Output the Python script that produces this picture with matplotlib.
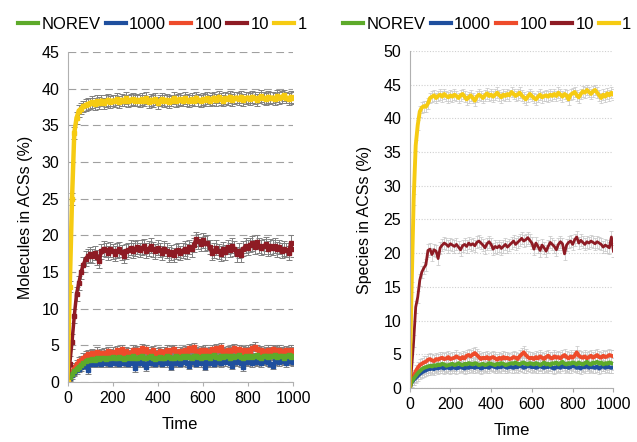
import numpy as np
import matplotlib
matplotlib.use('Agg')
import matplotlib.pyplot as plt
from matplotlib.lines import Line2D

plt.rcParams['font.family'] = ['Liberation Sans', 'DejaVu Sans']

# time axis (every 10 steps)
time = np.arange(0, 1001, 10)

labels = ['NOREV', '1000', '100', '10', '1']
colors = ['#5DAA2A', '#1F4F9E', '#EE4B2B', '#8E1B24', '#F6CB12']

# --- left panel: molecules in ACSs (%) ---
mol_norev = [0, 0.6, 1.1, 1.5, 1.8, 2.1, 2.3, 2.6, 2.8, 3.0, 3.0,
             3.1, 3.0, 3.2, 3.1, 3.3, 3.2, 3.1, 3.3, 3.2, 3.4,
             3.3, 3.2, 3.4, 3.3, 3.1, 3.3, 3.4, 3.2, 3.5, 3.3,
             3.2, 3.4, 3.6, 3.3, 3.2, 3.4, 3.5, 3.3, 3.1, 3.3,
             3.4, 3.2, 3.3, 3.5, 3.4, 3.2, 3.3, 3.5, 3.4, 3.3,
             3.5, 3.4, 3.6, 3.4, 3.3, 3.5, 3.6, 3.4, 3.3, 3.5,
             3.4, 3.6, 3.3, 3.5, 3.7, 3.4, 3.3, 3.5, 3.4, 3.6,
             3.5, 3.3, 3.6, 3.4, 3.5, 3.7, 3.4, 3.2, 3.5, 3.4,
             3.6, 3.4, 3.5, 3.7, 3.4, 3.3, 3.5, 3.6, 3.4, 3.6,
             3.5, 3.7, 3.4, 3.5, 3.6, 3.3, 3.5, 3.7, 3.4, 3.6]
mol_1000 = [0, 0.5, 0.9, 1.3, 1.6, 1.8, 2.0, 2.2, 2.4, 1.6, 2.5,
            2.6, 2.5, 2.7, 2.6, 2.5, 2.8, 2.6, 2.7, 2.5, 2.8,
            2.6, 2.7, 2.5, 2.8, 2.6, 2.7, 2.5, 2.8, 2.6, 1.9,
            2.7, 2.6, 2.9, 2.5, 2.0, 2.8, 2.6, 2.7, 2.5, 2.8,
            2.7, 2.5, 2.8, 2.6, 2.9, 2.1, 2.7, 2.6, 2.8, 2.5,
            2.7, 2.9, 2.6, 2.2, 2.8, 2.7, 2.5, 2.9, 2.6, 2.8,
            2.1, 2.7, 2.6, 2.9, 2.5, 2.8, 2.7, 2.6, 2.9, 2.7,
            3.7, 2.6, 2.2, 2.8, 2.7, 2.9, 2.6, 2.0, 2.8, 2.7,
            2.9, 2.6, 2.8, 2.7, 3.0, 2.6, 2.8, 2.9, 2.7, 2.5,
            2.2, 2.8, 2.9, 2.7, 3.0, 2.8, 2.6, 2.9, 2.8, 2.7]
mol_100 = [0, 0.8, 1.5, 2.0, 2.4, 2.8, 3.0, 3.3, 3.6, 3.8, 3.7,
           3.9, 3.8, 4.1, 3.7, 3.9, 4.0, 3.8, 4.2, 3.9, 4.1,
           3.8, 4.3, 4.0, 4.5, 3.9, 4.2, 4.0, 3.8, 4.4, 4.1,
           4.3, 4.0, 4.6, 4.2, 4.5, 3.9, 4.1, 4.3, 3.8, 4.0,
           4.2, 3.9, 4.1, 4.4, 4.0, 4.3, 4.5, 4.1, 3.9, 4.2,
           4.0, 4.3, 4.1, 4.6, 4.4, 4.7, 4.2, 4.0, 4.3, 4.1,
           4.4, 4.0, 4.2, 4.5, 4.1, 4.6, 4.3, 4.7, 4.2, 4.0,
           4.3, 4.1, 4.4, 4.6, 4.2, 4.5, 4.0, 4.3, 4.1, 4.4,
           4.2, 4.6, 4.8, 4.5, 4.1, 4.3, 4.0, 4.2, 4.4, 4.1,
           4.5, 4.3, 4.1, 4.4, 4.2, 4.0, 4.3, 4.1, 4.4, 4.2]
mol_10 = [0, 2.5, 5.5, 9.0, 12.0, 13.5, 15.0, 16.0, 16.8, 17.2, 17.4,
          17.2, 17.6, 17.0, 16.5, 17.8, 18.2, 18.0, 17.6, 18.1, 17.8,
          17.5, 17.9, 18.1, 17.7, 17.2, 17.8, 18.0, 18.3, 17.9, 18.2,
          18.4, 18.0, 18.3, 18.5, 17.9, 18.2, 18.6, 18.1, 17.8, 18.3,
          18.0, 17.6, 18.2, 17.9, 17.4, 17.7, 17.3, 17.8, 18.0, 17.6,
          17.9, 18.2, 17.8, 18.4, 18.1, 18.7, 19.5, 19.2, 18.8, 19.3,
          18.9, 19.0, 18.4, 17.6, 17.9, 18.3, 17.8, 17.5, 18.1, 17.7,
          18.4, 18.0, 18.6, 18.2, 17.4, 17.9, 17.3, 18.2, 18.6, 18.3,
          18.7, 18.9, 18.4, 19.1, 18.6, 18.3, 18.5, 18.8, 18.2, 18.5,
          18.3, 18.6, 18.1, 18.4, 17.9, 18.2, 18.0, 17.6, 19.0, 18.1]
mol_1 = [0, 13.0, 25.0, 34.0, 36.0, 37.0, 37.3, 37.6, 37.8, 37.9, 38.0,
         38.2, 37.9, 38.3, 38.1, 38.4, 38.0, 38.3, 38.5, 38.2, 38.4,
         38.3, 38.6, 38.2, 38.5, 38.4, 38.7, 38.3, 38.5, 38.6, 38.4,
         38.5, 38.3, 38.6, 38.4, 38.7, 38.2, 38.5, 38.3, 38.6, 38.1,
         38.4, 38.6, 38.3, 38.5, 38.2, 38.4, 38.7, 38.3, 38.5, 38.6,
         38.4, 38.7, 38.5, 38.3, 38.6, 38.4, 38.8, 38.5, 38.3, 38.6,
         38.5, 38.7, 38.4, 38.6, 38.8, 38.5, 38.9, 38.6, 38.4, 38.7,
         38.6, 38.9, 38.5, 38.7, 38.8, 38.6, 38.9, 38.5, 38.7, 38.8,
         38.6, 38.9, 38.7, 38.5, 38.8, 39.0, 38.7, 38.6, 38.9, 38.7,
         38.8, 38.6, 39.0, 38.7, 38.9, 39.1, 38.8, 38.6, 38.9, 38.7]
mol_err = [0.5, 0.5, 0.6, 1.0, 0.8]

# --- right panel: species in ACSs (%) ---
sp_norev = [0, 0.9, 1.4, 1.8, 2.2, 2.5, 2.8, 3.0, 3.1, 3.2, 3.3,
            3.2, 3.4, 3.3, 3.5, 3.4, 3.6, 3.5, 3.3, 3.4, 3.5,
            3.6, 3.4, 3.5, 3.7, 3.5, 3.4, 3.6, 3.5, 3.7, 3.6,
            3.5, 3.7, 3.6, 3.4, 3.5, 3.6, 3.4, 3.5, 3.7, 3.6,
            3.5, 3.4, 3.6, 3.5, 3.7, 3.6, 3.4, 3.5, 3.6, 3.7,
            3.6, 3.8, 3.6, 3.5, 3.7, 3.8, 3.6, 3.5, 3.7, 3.6,
            3.5, 3.7, 3.6, 3.4, 3.6, 3.8, 3.5, 3.6, 3.4, 3.7,
            3.6, 3.8, 3.5, 3.7, 3.9, 3.6, 3.5, 3.7, 3.6, 3.8,
            3.7, 3.5, 3.8, 3.6, 3.5, 3.7, 3.9, 3.6, 3.5, 3.8,
            3.7, 3.9, 3.6, 3.8, 3.5, 3.7, 3.6, 3.8, 3.7, 3.6]
sp_1000 = [0, 0.8, 1.2, 1.5, 1.8, 2.1, 2.3, 2.5, 2.6, 2.8, 2.8,
           2.9, 2.8, 3.0, 2.9, 3.1, 3.0, 2.9, 3.1, 3.0, 2.9,
           3.0, 3.1, 2.9, 3.0, 3.2, 3.0, 2.9, 3.1, 3.0, 3.2,
           3.1, 3.0, 3.2, 3.1, 2.9, 3.0, 3.2, 3.1, 3.0, 3.3,
           3.2, 3.1, 3.0, 3.2, 3.1, 3.3, 3.1, 3.0, 3.2, 3.1,
           3.0, 3.2, 3.1, 3.3, 3.2, 3.0, 3.1, 3.3, 3.2, 3.1,
           3.2, 3.0, 3.1, 3.3, 3.1, 3.0, 3.2, 3.1, 3.3, 3.0,
           2.9, 3.1, 3.2, 3.0, 3.3, 3.1, 3.2, 3.0, 3.1, 3.3,
           3.2, 3.0, 3.1, 2.9, 3.2, 3.1, 3.3, 3.0, 3.2, 3.1,
           3.0, 3.2, 2.9, 3.1, 3.3, 3.0, 3.2, 3.1, 3.0, 3.1]
sp_100 = [0, 1.0, 1.8, 2.5, 3.0, 3.4, 3.6, 3.8, 3.9, 4.2, 4.3,
          4.1, 4.0, 4.3, 4.2, 4.4, 4.5, 4.3, 4.4, 4.6, 4.3,
          4.4, 4.5, 4.7, 4.5, 4.3, 4.6, 4.4, 4.8, 4.9, 4.7,
          5.0, 5.2, 4.9, 4.6, 4.3, 4.5, 4.4, 4.6, 4.3, 4.5,
          4.6, 4.4, 4.2, 4.5, 4.3, 4.6, 4.4, 4.5, 4.3, 4.4,
          4.6, 4.5, 4.3, 4.7, 5.0, 5.3, 4.9, 4.6, 4.4, 4.5,
          4.3, 4.6, 4.4, 4.7, 4.5, 4.3, 4.6, 4.8, 4.5, 4.4,
          4.7, 4.5, 4.6, 4.4, 4.7, 4.9, 4.6, 4.4, 4.7, 4.5,
          4.8, 5.3, 4.8, 4.6, 4.5, 4.7, 4.4, 4.6, 4.8, 4.5,
          4.7, 4.9, 4.6, 4.5, 4.8, 4.6, 4.7, 4.9, 4.8, 4.7]
sp_10 = [0, 3.0, 7.0, 12.0, 13.5, 16.0, 17.2, 17.8, 18.3, 20.4, 20.6,
         19.8, 20.5, 20.3, 19.2, 20.8, 21.2, 21.5, 21.3, 21.0, 21.4,
         21.2, 21.0, 21.3, 20.9, 20.5, 21.1, 21.3, 21.0, 21.5, 21.2,
         21.4, 21.1, 21.6, 21.8, 21.5, 21.2, 20.8, 21.4, 21.7, 21.3,
         20.6, 21.0, 20.8, 21.1, 20.7, 21.0, 21.3, 20.9, 21.2, 21.5,
         21.8, 21.3, 21.6, 21.9, 22.2, 21.8, 22.0, 22.3, 21.9, 21.5,
         20.6, 21.5, 21.0, 20.4, 21.2, 20.8, 20.3, 21.0, 21.6, 21.3,
         21.0, 20.5, 21.3, 21.7, 21.4, 19.9, 21.2, 21.6, 21.8, 21.3,
         22.0, 22.4, 21.5, 21.9, 21.6, 21.3, 21.7, 21.5, 21.8, 21.6,
         21.4, 21.7, 21.5, 21.3, 20.9, 21.2, 21.0, 20.8, 22.4, 20.3]
sp_1 = [0, 15.0, 28.0, 36.0, 39.0, 41.0, 41.6, 41.8, 41.7, 42.2, 43.0,
        43.2, 43.4, 43.0, 43.3, 43.5, 43.2, 43.6, 43.3, 43.1, 43.4,
        43.2, 43.5, 43.3, 43.0, 43.4, 43.6, 43.2, 42.8, 43.1, 43.4,
        43.0, 42.6, 43.2, 43.5, 43.3, 43.0, 43.4, 43.7, 43.3, 43.5,
        43.2, 43.5, 43.8, 43.4, 43.1, 43.5, 43.3, 43.6, 43.4, 43.9,
        43.6, 43.3, 43.5, 43.8, 43.4, 43.1, 42.8, 43.2, 43.6, 43.3,
        43.0, 42.8, 43.2, 43.5, 43.1, 43.3, 43.4, 43.2, 43.5, 43.3,
        43.6, 43.3, 43.8, 43.5, 43.2, 43.6, 43.4, 42.8, 43.5, 43.7,
        43.9, 43.4, 43.1, 43.6, 44.0, 43.8, 44.2, 43.9, 43.6, 44.0,
        44.2, 43.8, 43.4, 43.0, 43.5, 43.2, 43.7, 43.4, 43.8, 43.5]
sp_err = [0.9, 0.8, 0.9, 0.9, 0.8]

fig = plt.figure(figsize=(6.37, 4.42), dpi=100)
ax1 = fig.add_axes([0.106, 0.136, 0.354, 0.746])
ax2 = fig.add_axes([0.643, 0.122, 0.320, 0.763])

# draw order: 1000, 100, NOREV, 10, 1
order = [1, 2, 0, 3, 4]

mol = [mol_norev, mol_1000, mol_100, mol_10, mol_1]
for i in order:
    lw = 3.2 if i == 4 else 2.5
    ax1.errorbar(time, mol[i], yerr=mol_err[i], color=colors[i], lw=lw,
                 marker='s', ms=3, ecolor='#808080', elinewidth=0.7,
                 capsize=2, capthick=0.7)

sp = [sp_norev, sp_1000, sp_100, sp_10, sp_1]
for i in order:
    lw = 2.8 if i != 3 else 2.0
    ax2.errorbar(time, sp[i], yerr=sp_err[i], color=colors[i], lw=lw,
                 ecolor='#c4c4c4', elinewidth=0.5, capsize=1.5, capthick=0.5)

for ax, top, step, ls, gcol in [(ax1, 45, 5, (0, (7, 4)), '#a0a0a0'),
                                (ax2, 50, 5, (0, (1, 1.5)), '#cfcfcf')]:
    ax.set_xlim(0, 1000)
    ax.set_ylim(0, top)
    ax.set_yticks(np.arange(0, top + 1, step))
    ax.set_xticks(np.arange(0, 1001, 200))
    ax.yaxis.grid(True, linestyle=ls, color=gcol, lw=0.8)
    ax.set_axisbelow(True)
    for s in ['top', 'right']:
        ax.spines[s].set_visible(False)
    ax.spines['left'].set_color('#b0b0b0')
    ax.spines['bottom'].set_color('#b0b0b0')
    ax.tick_params(axis='y', length=0, labelsize=11.5, pad=6)
    ax.tick_params(axis='x', length=3, color='#b0b0b0', labelsize=11.5)
    ax.set_xlabel('Time', fontsize=12, labelpad=8)

ax1.set_ylabel('Molecules in ACSs (%)', fontsize=11.5, labelpad=6)
ax2.set_ylabel('Species in ACSs (%)', fontsize=11.5, labelpad=8)

handles = [Line2D([], [], color=c, lw=3) for c in colors]
for x0 in [0.255, 0.765]:
    fig.legend(handles, labels, loc='center', bbox_to_anchor=(x0, 0.945),
               ncol=5, frameon=False, fontsize=12, handlelength=1.2,
               handletextpad=0.2, columnspacing=0.3)

fig.savefig('out.png', dpi=100)
